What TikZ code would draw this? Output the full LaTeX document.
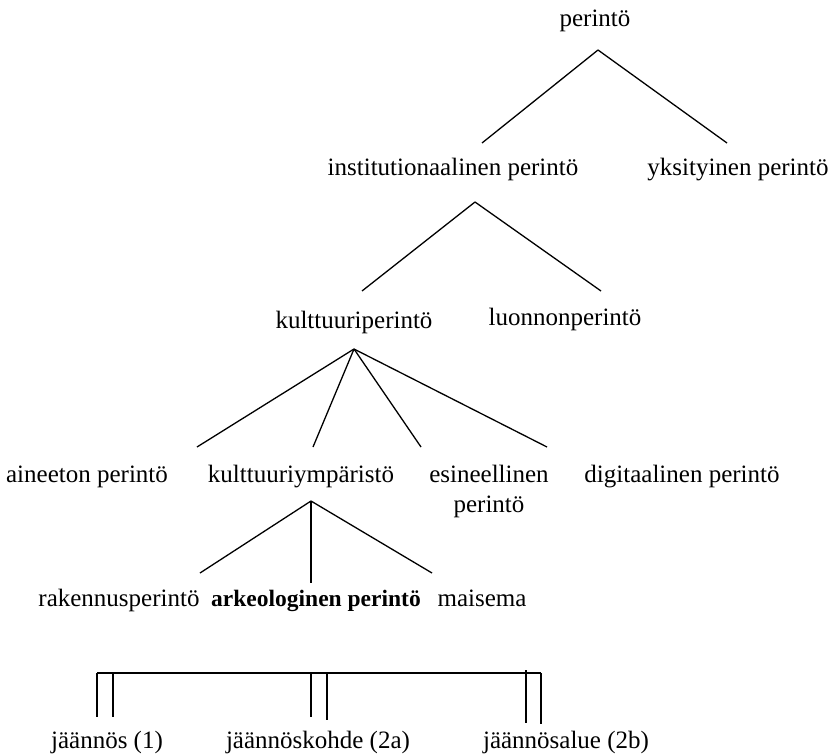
\documentclass[tikz,border=0pt]{standalone}
\usepackage{fontspec}
\setmainfont{Liberation Serif}
\begin{document}
\begin{tikzpicture}[x=1pt, y=-1pt, line width=1.3pt,
    main/.style = {anchor=base, inner sep=0pt, font=\fontsize{25}{30}\selectfont}]
    \useasboundingbox (0,0) rectangle (829,755);

    \node[main] (1) at (595,26) {perintö};
    \node[main] (2) at (453,175) {institutionaalinen perintö};
    \node[main] (3) at (738,175) {yksityinen perintö};
    \node[main] (4) at (354,328) {kulttuuriperintö};
    \node[main] (5) at (565,325) {luonnonperintö};
    \node[main] (6) at (87,482) {aineeton perintö};
    \node[main] (7) at (301,482) {kulttuuriympäristö};
    \node[main] (8) [anchor=north, align=center] at (489,464) {esineellinen\\perintö};
    \node[main] (9) at (682,482) {digitaalinen perintö};
    \node[main] (10) at (119,606) {rakennusperintö};
    \node[main] (11) [font=\fontsize{23.5}{30}\selectfont\bfseries] at (316,606) {arkeologinen perintö};
    \node[main] (12) at (482,606) {maisema};
    \node[main] (13) at (107,748) {jäännös (1)};
    \node[main] (14) at (318,748) {jäännöskohde (2a)};
    \node[main] (15) at (566,748) {jäännösalue (2b)};

    \coordinate (1a) at (598,50);
    \coordinate (2t) at (482,143);
    \coordinate (3t) at (727,143);
    \coordinate (2a) at (475,202);
    \coordinate (4t) at (362,291);
    \coordinate (5t) at (601,291);
    \coordinate (4a) at (354,349);
    \coordinate (6t) at (197,447);
    \coordinate (7t) at (313,447);
    \coordinate (8t) at (421,447);
    \coordinate (9t) at (547,447);
    \coordinate (7a) at (311,501);
    \coordinate (10t) at (200,573);
    \coordinate (11t) at (311,583);
    \coordinate (12t) at (432,573);

    \draw (1a) -- (2t);
    \draw (1a) -- (3t);
    \draw (2a) -- (4t);
    \draw (2a) -- (5t);
    \draw (4a) -- (6t);
    \draw (4a) -- (7t);
    \draw (4a) -- (8t);
    \draw (4a) -- (9t);
    \draw (7a) -- (10t);
    \draw (7a) -- (11t);
    \draw (7a) -- (12t);

    \coordinate (b1) at (97,673);
    \coordinate (b2) at (541,673);
    \coordinate (13a) at (97,717);
    \coordinate (13b) at (113,717);
    \coordinate (14a) at (311,717);
    \coordinate (14b) at (327,720);
    \coordinate (15a) at (526,723);
    \coordinate (15b) at (541,724);

    \draw (b1) -- (b2);
    \draw (b1) -- (13a);
    \draw (113,673) -- (13b);
    \draw (311,673) -- (14a);
    \draw (327,673) -- (14b);
    \draw (526,670) -- (15a);
    \draw (b2) -- (15b);

\end{tikzpicture}
\end{document}
